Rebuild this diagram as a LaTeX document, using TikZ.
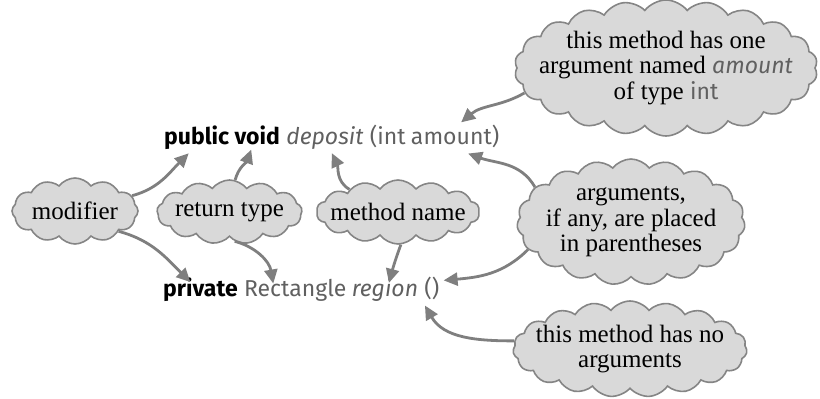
\documentclass[tikz,border=0pt]{standalone}
\usepackage{fontspec}
\setmainfont{Liberation Serif}
\newfontfamily\codefont{Fira Sans}
\usetikzlibrary{shapes.symbols,arrows.meta}
\definecolor{cgray}{HTML}{606060}
\definecolor{linegray}{HTML}{7F7F7F}
\definecolor{cloudfill}{HTML}{D9D9D9}
\definecolor{cloudline}{HTML}{858585}
\begin{document}
\begin{tikzpicture}[x=1pt,y=1pt,
  cl/.style={cloud, cloud ignores aspect, draw=cloudline, fill=cloudfill, line width=1.6pt,
    inner sep=0pt, cloud puff arc=105},
  ct/.style={align=center, inner sep=0pt, font=\fontsize{25}{25.5}\selectfont},
  kw/.style={anchor=base west, inner sep=0pt, font=\codefont\fontsize{23}{26}\selectfont\bfseries},
  cd/.style={anchor=base west, inner sep=0pt, text=cgray, font=\codefont\fontsize{23}{26}\selectfont},
  cdi/.style={cd, font=\codefont\fontsize{23}{26}\selectfont\itshape},
  arr/.style={draw=linegray, line width=2.8pt, -{Triangle[length=14pt,width=13pt]}}]
\path[use as bounding box] (0,0) rectangle (820,399);
% code lines
\node[kw] (pub) at (164,254) {public};
\node[kw] (void) at ([xshift=5pt]pub.base east) {void};
\node[cdi] (dep) at ([xshift=6pt]void.base east) {deposit};
\node[cd] (int) at ([xshift=6pt]dep.base east) {(int};
\node[cd] (amt) at ([xshift=5pt]int.base east) {amount)};
\node[kw] (priv) at (163,102) {private};
\node[cd] (rect) at ([xshift=6pt]priv.base east) {Rectangle};
\node[cdi] (reg) at ([xshift=5pt]rect.base east) {region};
\node[cd] (par) at ([xshift=6pt]reg.base east) {()};
% clouds
\node[cl, cloud puffs=12, minimum width=126pt, minimum height=66pt] (mod) at (75,188) {};
\node[ct] (modt) at (mod.center) {modifier};
\node[cl, cloud puffs=13, minimum width=145pt, minimum height=64pt] (rt) at (229.5,187) {};
\node[ct] (rtt) at (rt.center) {return type};
\node[cl, cloud puffs=14, minimum width=163pt, minimum height=64pt] (mn) at (398,187) {};
\node[ct] (mnt) at (mn.center) {method name};
\node[cl, cloud puffs=22, minimum width=303pt, minimum height=136pt] (tr) at (666,331) {};
\node[ct] (trt) at (tr.center)
  {this method has one\\argument named {\codefont\fontsize{23}{25.5}\selectfont\itshape\color{cgray}amount}\\of type {\codefont\fontsize{23}{25.5}\selectfont\color{cgray}int}};
\node[cl, cloud puffs=19, minimum width=228pt, minimum height=126pt] (arg) at (631,177) {};
\node[ct] (argt) at (arg.center) {arguments,\\if any, are placed\\in parentheses};
\node[cl, cloud puffs=19, minimum width=234pt, minimum height=96pt] (na) at (630,50) {};
\node[ct] (nat) at (na.center) {this method has no\\arguments};
% connectors
\draw[arr] (mod.15) to[out=15,in=225] ([xshift=-8pt,yshift=-3pt]pub.south);
\draw[arr] (mod.-25) to[out=-15,in=135] ([xshift=-10pt,yshift=-4pt]priv.north);
\draw[arr] (rt.80) to[out=75,in=250] ([xshift=-6pt,yshift=-4pt]void.south);
\draw[arr] (rt.-80) to[out=-15,in=100] ([xshift=-22pt,yshift=-4pt]rect.north);
\draw[arr] (mn.155) to[out=150,in=-65] ([xshift=7pt,yshift=-3pt]dep.south);
\draw[arr] (mn.-85) to[out=-110,in=75] ([xshift=4pt,yshift=-4pt]reg.north);
\draw[arr] (tr.190) to[out=210,in=40] ([xshift=6pt,yshift=3pt]amt.north);
\draw[arr] (arg.160) to[out=120,in=-20] ([xshift=13pt,yshift=-5pt]amt.south);
\draw[arr] (arg.195) to[out=225,in=5] ([xshift=4pt,yshift=-3pt]par.north east);
\draw[arr] (na.176) to[out=180,in=-60] ([xshift=-7pt,yshift=-5pt]par.south);
\end{tikzpicture}
\end{document}
